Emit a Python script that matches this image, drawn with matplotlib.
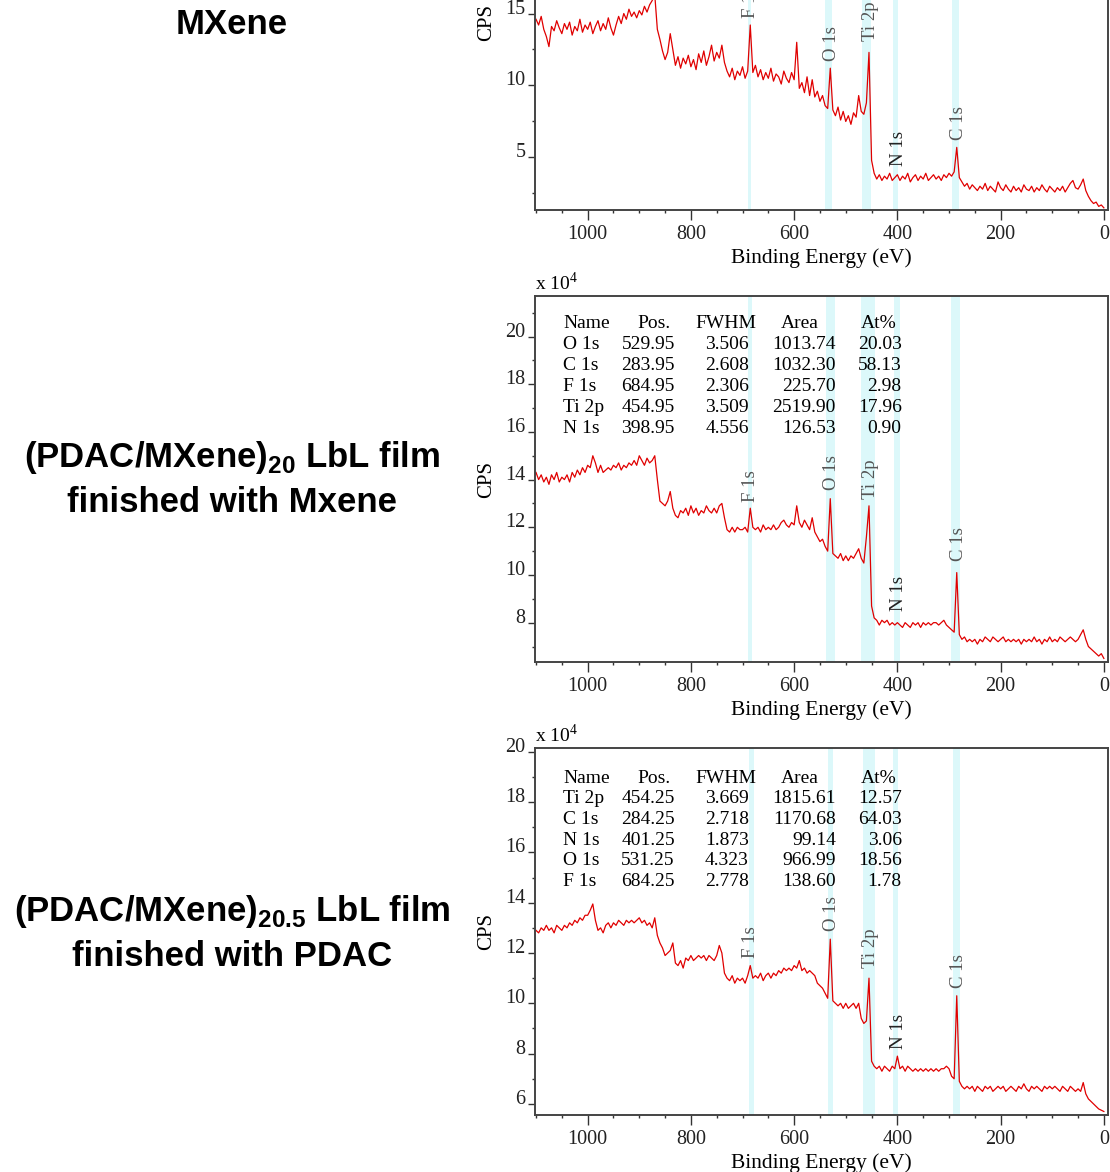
import numpy as np
import matplotlib
matplotlib.use('Agg')
import matplotlib.pyplot as plt
from matplotlib.ticker import MultipleLocator

plt.rcParams['font.family'] = 'Liberation Serif'
plt.rcParams['mathtext.fontset'] = 'custom'
plt.rcParams['mathtext.rm'] = 'Liberation Serif'
plt.rcParams['mathtext.bf'] = 'Liberation Sans:bold'

# binding energy grid (eV), 1100 -> 0 in 5 eV steps
energy = np.arange(1100, -1, -5)

# CPS (x 10^4), one row per 100 eV
cps_mxene = [
    14.6, 14.2, 14.8, 13.9, 13.4, 12.7, 14.1, 13.8, 14.5, 14.0, 13.6, 14.3, 13.9, 14.4, 13.5, 14.1, 13.8, 14.6, 13.7, 14.2,
    13.9, 14.4, 13.6, 14.1, 14.5, 13.8, 14.3, 13.9, 14.7, 14.0, 13.5, 14.2, 14.8, 14.3, 15.0, 14.6, 15.3, 14.8, 15.1, 14.7,
    15.2, 14.9, 15.5, 15.1, 15.6, 15.9, 16.3, 13.9, 13.2, 12.4, 11.8, 12.3, 13.6, 12.5, 11.4, 12.0, 11.2, 11.9, 11.5, 12.1,
    11.3, 11.8, 11.1, 12.2, 11.6, 12.4, 11.4, 12.0, 12.8, 11.7, 12.3, 11.9, 12.8, 11.6, 11.0, 10.6, 11.2, 10.4, 11.0, 10.7,
    11.3, 10.5, 11.0, 14.2, 10.9, 11.4, 10.6, 11.1, 10.4, 10.9, 10.5, 11.2, 10.3, 10.8, 10.6, 10.1, 11.0, 10.5, 10.2, 10.9,
    10.4, 13.0, 9.8, 10.2, 9.5, 10.6, 9.3, 10.4, 9.2, 9.6, 8.9, 9.3, 8.6, 8.4, 11.2, 8.3, 7.9, 8.5, 7.6, 8.2,
    7.5, 7.9, 7.3, 8.1, 7.8, 9.3, 8.2, 8.0, 8.8, 12.3, 4.8, 3.9, 3.5, 3.8, 3.4, 3.7, 3.5, 3.9, 3.4, 3.6,
    3.8, 3.4, 3.7, 3.5, 3.9, 3.3, 3.6, 3.8, 3.4, 3.7, 3.5, 3.9, 3.4, 3.6, 3.8, 3.5, 3.7, 3.4, 3.8, 3.6,
    3.9, 3.7, 4.0, 5.7, 3.6, 3.3, 3.0, 3.2, 2.8, 3.1, 2.9, 2.7, 3.0, 2.8, 3.2, 2.7, 3.0, 2.8, 2.6, 3.3,
    2.9, 2.7, 3.1, 2.8, 2.6, 3.0, 2.7, 2.9, 2.6, 3.1, 2.8, 2.7, 3.0, 2.6, 2.9, 2.7, 3.1, 2.8, 2.6, 3.0,
    2.8, 2.6, 2.9, 2.7, 3.0, 2.6, 2.9, 3.2, 3.4, 2.9, 2.8, 3.1, 3.5, 2.7, 2.3, 2.0, 1.8, 1.9, 1.6, 1.7,
    1.5,
]

cps_lbl20 = [
    14.3, 14.0, 14.2, 13.9, 14.1, 13.8, 14.2, 14.0, 14.3, 13.9, 14.1, 14.0, 14.2, 13.9, 14.3, 14.1, 14.4, 14.2, 14.5, 14.3,
    14.6, 14.5, 15.0, 14.7, 14.3, 14.6, 14.3, 14.4, 14.5, 14.4, 14.6, 14.5, 14.7, 14.4, 14.6, 14.5, 14.7, 14.6, 14.8, 14.6,
    15.0, 14.8, 14.6, 14.9, 14.7, 14.8, 15.0, 14.0, 13.1, 13.0, 12.9, 13.1, 13.5, 12.8, 12.5, 12.4, 12.7, 12.6, 12.8, 12.5,
    12.9, 12.6, 12.8, 12.5, 12.7, 12.6, 12.9, 12.7, 12.6, 12.8, 12.6, 12.9, 13.0, 12.4, 11.9, 11.8, 12.0, 11.8, 12.0, 11.9,
    11.9, 12.0, 11.8, 12.8, 12.0, 11.9, 12.0, 11.8, 12.1, 11.9, 12.0, 11.9, 12.1, 11.9, 12.0, 12.2, 12.3, 12.1, 12.0, 12.2,
    12.1, 12.9, 12.2, 12.0, 12.3, 12.1, 11.9, 12.4, 11.8, 11.6, 11.4, 11.5, 11.2, 11.0, 13.2, 10.9, 10.8, 10.7, 10.9, 10.6,
    10.8, 10.6, 10.8, 10.7, 10.9, 11.1, 10.7, 10.5, 11.6, 12.9, 8.7, 8.2, 8.1, 7.9, 8.1, 8.0, 8.1, 7.9, 8.0, 7.9,
    8.0, 7.9, 7.8, 8.0, 7.9, 7.8, 8.0, 7.9, 8.0, 7.8, 8.0, 7.9, 8.0, 7.9, 8.0, 8.0, 7.9, 8.0, 8.1, 7.9,
    7.8, 7.7, 7.6, 10.1, 7.5, 7.3, 7.4, 7.2, 7.3, 7.2, 7.3, 7.1, 7.3, 7.2, 7.4, 7.3, 7.2, 7.4, 7.3, 7.2,
    7.3, 7.4, 7.2, 7.3, 7.2, 7.3, 7.2, 7.3, 7.1, 7.3, 7.2, 7.3, 7.2, 7.4, 7.2, 7.3, 7.1, 7.3, 7.2, 7.4,
    7.2, 7.3, 7.2, 7.4, 7.3, 7.2, 7.3, 7.4, 7.3, 7.2, 7.3, 7.5, 7.7, 7.3, 7.0, 6.9, 6.8, 6.7, 6.6, 6.7,
    6.5,
]

cps_lbl205 = [
    12.9, 12.8, 13.0, 12.9, 13.1, 12.9, 13.0, 12.8, 13.1, 13.0, 12.9, 13.1, 13.0, 13.2, 13.1, 13.3, 13.2, 13.4, 13.3, 13.5,
    13.5, 13.7, 13.95, 13.3, 12.9, 13.0, 12.8, 13.1, 13.2, 13.0, 13.2, 13.1, 13.3, 13.2, 13.1, 13.3, 13.2, 13.3, 13.2, 13.3,
    13.4, 13.2, 13.3, 13.1, 13.2, 13.0, 13.4, 12.7, 12.4, 12.2, 11.9, 12.0, 12.1, 12.4, 11.6, 11.5, 11.7, 11.4, 11.8, 11.7,
    11.9, 11.7, 11.8, 11.9, 11.8, 11.9, 11.7, 11.9, 11.8, 11.7, 11.9, 12.3, 12.0, 11.2, 11.0, 10.9, 11.1, 10.8, 11.0, 10.9,
    11.0, 10.8, 11.1, 11.5, 11.0, 11.1, 11.0, 11.2, 10.9, 11.1, 11.2, 11.0, 11.2, 11.1, 11.3, 11.2, 11.4, 11.3, 11.4, 11.3,
    11.5, 11.4, 11.7, 11.3, 11.4, 11.2, 11.3, 11.2, 11.1, 10.8, 10.7, 10.6, 10.4, 10.2, 12.55, 10.1, 10.0, 9.9, 10.0, 9.8,
    10.0, 9.8, 9.9, 10.0, 9.8, 10.0, 9.4, 9.2, 9.3, 11.0, 7.7, 7.5, 7.4, 7.5, 7.3, 7.5, 7.4, 7.3, 7.5, 7.4,
    7.9, 7.4, 7.5, 7.3, 7.5, 7.4, 7.3, 7.4, 7.3, 7.4, 7.3, 7.4, 7.3, 7.4, 7.3, 7.4, 7.3, 7.4, 7.4, 7.5,
    7.4, 7.1, 7.0, 10.3, 6.9, 6.7, 6.6, 6.7, 6.6, 6.7, 6.5, 6.7, 6.6, 6.5, 6.7, 6.6, 6.7, 6.5, 6.6, 6.7,
    6.6, 6.7, 6.5, 6.6, 6.7, 6.6, 6.5, 6.7, 6.6, 6.8, 6.6, 6.5, 6.7, 6.6, 6.7, 6.6, 6.5, 6.7, 6.6, 6.7,
    6.6, 6.7, 6.6, 6.5, 6.7, 6.6, 6.5, 6.7, 6.6, 6.5, 6.6, 6.5, 6.85, 6.4, 6.2, 6.1, 6.0, 5.9, 5.8, 5.75,
    5.7,
]

# peak labels and their integration windows
peak_names = ['F 1s', 'O 1s', 'Ti 2p', 'N 1s', 'C 1s']
label_x = [684, 528, 452, 398, 282]
label_y_mxene = [14.7, 11.7, 13.1, 4.4, 6.2]
label_y_lbl20 = [13.06, 13.55, 13.2, 8.5, 10.6]
label_y_lbl205 = [11.8, 12.87, 11.4, 8.2, 10.6]
bands_mxene = [(690, 684), (541, 526), (468, 452), (408, 398), (294, 281)]
bands_lbl20 = [(689, 681), (538, 521), (470, 444), (407, 395), (297, 279)]
bands_lbl205 = [(688, 678), (535, 524), (467, 444), (408, 398), (293, 278)]

# quantification tables
tab20_names = ['O 1s', 'C 1s', 'F 1s', 'Ti 2p', 'N 1s']
tab20_pos = [529.95, 283.95, 684.95, 454.95, 398.95]
tab20_fwhm = [3.506, 2.608, 2.306, 3.509, 4.556]
tab20_area = [1013.74, 1032.30, 225.70, 2519.90, 126.53]
tab20_at = [20.03, 58.13, 2.98, 17.96, 0.90]

tab205_names = ['Ti 2p', 'C 1s', 'N 1s', 'O 1s', 'F 1s']
tab205_pos = [454.25, 284.25, 401.25, 531.25, 684.25]
tab205_fwhm = [3.669, 2.718, 1.873, 4.323, 2.778]
tab205_area = [1815.61, 1170.68, 99.14, 966.99, 138.60]
tab205_at = [12.57, 64.03, 3.06, 18.56, 1.78]

W, H = 1110, 1172
fig = plt.figure(figsize=(W / 100, H / 100), dpi=100)


def px_axes(left, top, right, bottom):
    return fig.add_axes([left / W, 1 - bottom / H, (right - left) / W, (bottom - top) / H])


def draw_panel(ax, cps, bands, label_y, ylim, yticks, yminor):
    for lo, hi in bands:
        ax.axvspan(hi, lo, color='#dcf8fa', lw=0, zorder=0)
    ax.plot(energy, cps, color='#e00000', lw=0.9, zorder=2)
    for name, x, y in zip(peak_names, label_x, label_y):
        c = '#222222' if name == 'N 1s' else '#555555'
        ax.text(x, y, name, rotation=90, ha='center', va='bottom',
                fontsize=13.5, color=c, zorder=3)
    ax.set_xlim(1102, -8)
    ax.xaxis.set_major_locator(MultipleLocator(200))
    ax.xaxis.set_minor_locator(MultipleLocator(50))
    ax.set_yticks(yticks)
    ax.yaxis.set_minor_locator(MultipleLocator(yminor))
    ax.set_ylim(*ylim)
    ax.tick_params(which='both', direction='out', width=1.0, color='#333333',
                   labelcolor='#222222', labelsize=14.5)
    ax.tick_params(axis='x', which='major', length=7.5, pad=3.5)
    ax.tick_params(axis='y', which='major', length=5, pad=2)
    ax.tick_params(which='minor', length=2.5)
    plt.setp(ax.get_yticklabels(), va='baseline')
    for s in ax.spines.values():
        s.set_color('#444444')
        s.set_linewidth(1.4)
    ax.set_xlabel('Binding Energy (eV)', fontsize=15.5, labelpad=3)
    ax.set_ylabel('CPS', fontsize=15)
    ax.yaxis.set_label_coords(-0.068, 0.5)


def draw_table(ax, names, pos, fwhm, area, at, top, step):
    kw = dict(transform=ax.transAxes, fontsize=14, va='center')
    ax.text(0.049, top, 'Name', ha='left', **kw)
    ax.text(0.208, top, 'Pos.', ha='center', **kw)
    ax.text(0.333, top, 'FWHM', ha='center', **kw)
    ax.text(0.462, top, 'Area', ha='center', **kw)
    ax.text(0.600, top, 'At%', ha='center', **kw)
    for i in range(len(names)):
        y = top - step * (i + 1)
        ax.text(0.049, y, names[i], ha='left', **kw)
        ax.text(0.244, y, f'{pos[i]:.2f}', ha='right', **kw)
        ax.text(0.373, y, f'{fwhm[i]:.3f}', ha='right', **kw)
        ax.text(0.525, y, f'{area[i]:.2f}', ha='right', **kw)
        ax.text(0.640, y, f'{at[i]:.2f}', ha='right', **kw)


ax1 = px_axes(535, -165, 1108, 210)
draw_panel(ax1, cps_mxene, bands_mxene, label_y_mxene, (1.35, 27.4), [5, 10, 15], 2.5)

ax2 = px_axes(535, 296, 1108, 662)
draw_panel(ax2, cps_lbl20, bands_lbl20, label_y_lbl20, (6.35, 21.7), [8, 10, 12, 14, 16, 18, 20], 1)
draw_table(ax2, tab20_names, tab20_pos, tab20_fwhm, tab20_area, tab20_at, 0.926, 0.0574)
ax2.text(0.0, 1.005, 'x 10$^4$', transform=ax2.transAxes, ha='left', va='bottom', fontsize=14)

ax3 = px_axes(535, 748, 1108, 1115)
draw_panel(ax3, cps_lbl205, bands_lbl205, label_y_lbl205, (5.56, 20.15), [6, 8, 10, 12, 14, 16, 18, 20], 1)
draw_table(ax3, tab205_names, tab205_pos, tab205_fwhm, tab205_area, tab205_at, 0.918, 0.0564)
ax3.text(0.0, 1.005, 'x 10$^4$', transform=ax3.transAxes, ha='left', va='bottom', fontsize=14)

# sample names on the left
side = dict(ha='center', va='center', fontsize=25, fontweight='bold', family='Liberation Sans')
fig.text(232 / W, 1 - 25 / H, 'MXene', **side)
fig.text(232 / W, 1 - 458 / H, r'(PDAC/MXene)$_{\mathbf{20}}$ LbL film', **side)
fig.text(232 / W, 1 - 502 / H, 'finished with Mxene', **side)
fig.text(232 / W, 1 - 912 / H, r'(PDAC/MXene)$_{\mathbf{20.5}}$ LbL film', **side)
fig.text(232 / W, 1 - 957 / H, 'finished with PDAC', **side)

fig.savefig('out.png', dpi=100)
